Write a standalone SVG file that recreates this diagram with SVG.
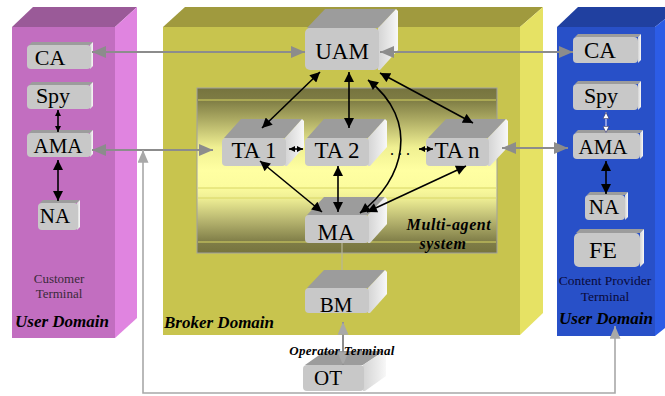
<svg xmlns="http://www.w3.org/2000/svg" width="665" height="396" viewBox="0 0 665 396">
<defs>
<style>
.nf{fill:#C8C8C8}
.nt{fill:#9C9C9C}
.ns{fill:url(#sideg)}
.nl{font-family:"Liberation Serif","Times New Roman",serif;fill:#000;text-anchor:middle}
.bi{font-family:"Liberation Serif","Times New Roman",serif;font-weight:bold;font-style:italic;fill:#000}
.lbl{font-family:"Liberation Serif","Times New Roman",serif;text-anchor:middle}
.blk{stroke:#000;stroke-width:1.6;fill:none}
.gry{stroke:#8C8C8C;stroke-width:2.2;fill:none}
.band{stroke:#D8D664;stroke-width:1}
</style>
<linearGradient id="sideg" x1="0" y1="0" x2="1" y2="0">
<stop offset="0" stop-color="#D4D4D4"/>
<stop offset="0.7" stop-color="#ECECEC"/>
<stop offset="1" stop-color="#F8F8F8"/>
</linearGradient>
<linearGradient id="mas" x1="0" y1="0" x2="0" y2="1">
<stop offset="0" stop-color="#76743E"/>
<stop offset="0.073" stop-color="#7E7C44"/>
<stop offset="0.18" stop-color="#A8A660"/>
<stop offset="0.36" stop-color="#F0F092"/>
<stop offset="0.5" stop-color="#FFFFA2"/>
<stop offset="0.6" stop-color="#FCFC9E"/>
<stop offset="0.67" stop-color="#EEEE94"/>
<stop offset="0.8" stop-color="#B8B670"/>
<stop offset="0.93" stop-color="#807E48"/>
<stop offset="1" stop-color="#76743E"/>
</linearGradient>
<marker id="ab" viewBox="0 0 10 10" refX="10" refY="5" markerWidth="11" markerHeight="10" markerUnits="userSpaceOnUse" orient="auto-start-reverse"><path d="M0,0L10,5L0,10z" fill="#000"/></marker>
<marker id="abs" viewBox="0 0 10 10" refX="10" refY="5" markerWidth="6" markerHeight="6" markerUnits="userSpaceOnUse" orient="auto-start-reverse"><path d="M0,0L10,5L0,10z" fill="#000"/></marker>
<marker id="aw" viewBox="0 0 10 10" refX="10" refY="5" markerWidth="7" markerHeight="7" markerUnits="userSpaceOnUse" orient="auto-start-reverse"><path d="M0.5,0.5L9.5,5L0.5,9.5z" fill="#FFFFFF" stroke="#303060" stroke-width="1"/></marker>
<marker id="ag" viewBox="0 0 14 12" refX="14" refY="6" markerWidth="14" markerHeight="12" markerUnits="userSpaceOnUse" orient="auto-start-reverse"><path d="M0,0L14,6L0,12z" fill="#8C8C8C"/></marker>
<marker id="agl" viewBox="0 0 14 12" refX="14" refY="6" markerWidth="13" markerHeight="11" markerUnits="userSpaceOnUse" orient="auto-start-reverse"><path d="M0,0L14,6L0,12z" fill="#A8A8A8"/></marker>
</defs>

<rect x="0" y="0" width="665" height="396" fill="#FFFFFF"/>

<!-- Domains -->
<g id="customer-domain">
<polygon points="12,27 33,7 137,7 115,27" fill="#9A5A98"/>
<polygon points="115,27 137,7 137,318 115,338" fill="#E084E0"/>
<rect x="12" y="27" width="103" height="311" fill="#C26EC0"/>
<text class="lbl" x="59" y="283" font-size="13" fill="#3A2A3A">Customer</text>
<text class="lbl" x="59" y="298" font-size="13" fill="#3A2A3A">Terminal</text>
<text class="bi" x="15" y="327" font-size="17">User Domain</text>
</g>

<g id="broker-domain">
<polygon points="163,27 185,7 543,7 520,27" fill="#A09A3E"/>
<polygon points="520,27 543,7 543,313 520,335" fill="#E6E264"/>
<rect x="163" y="27" width="357" height="308" fill="#C8C44E"/>
<text class="bi" x="164" y="328" font-size="17">Broker Domain</text>
</g>

<g id="provider-domain">
<polygon points="557,27 578,7 680,7 655,27" fill="#2040A0"/>
<polygon points="655,27 680,7 680,316 655,336" fill="#2C5CE6"/>
<rect x="557" y="27" width="98" height="309" fill="#2850C8"/>
<text class="lbl" x="605" y="285" font-size="13.5" fill="#0A0A3A">Content Provider</text>
<text class="lbl" x="605" y="301" font-size="13.5" fill="#0A0A3A">Terminal</text>
<text class="bi" x="559" y="324" font-size="17">User Domain</text>
</g>

<g id="multi-agent-system">
<rect x="197" y="88" width="300" height="165" fill="url(#mas)" stroke="#A0A0A0" stroke-width="1"/>
<line class="band" x1="198" y1="100" x2="496" y2="100"/>
<line class="band" x1="198" y1="188" x2="496" y2="188"/>
<line class="band" x1="198" y1="198" x2="496" y2="198"/>
<line class="band" x1="198" y1="242" x2="496" y2="242"/>
<text class="bi" x="449" y="230" font-size="16" text-anchor="middle" letter-spacing="0.6">Multi-agent</text>
<text class="bi" x="443" y="249" font-size="16" text-anchor="middle" letter-spacing="0.6">system</text>
</g>

<!-- Big 3D nodes -->
<g id="UAM">
<polygon class="nt" points="307,28 325,9 396,9 378,28"/>
<polygon class="ns" points="378,28 396,9 398,11 398,50 380,70 378,70"/>
<rect class="nf" x="305" y="28" width="74" height="42" rx="5"/>
<text class="nl" x="342" y="59" font-size="23">UAM</text>
</g>
<g id="TA1">
<polygon class="nt" points="224,138 241,119 302,119 285,138"/>
<polygon class="ns" points="285,138 302,119 304,121 304,147 287,166 285,166"/>
<rect class="nf" x="222" y="138" width="64" height="28" rx="4"/>
<text class="nl" x="254" y="158" font-size="23">TA 1</text>
</g>
<g id="TA2">
<polygon class="nt" points="307,138 324,119 385,119 368,138"/>
<polygon class="ns" points="368,138 385,119 387,121 387,147 370,166 368,166"/>
<rect class="nf" x="305" y="138" width="64" height="28" rx="4"/>
<text class="nl" x="337" y="158" font-size="23">TA 2</text>
</g>
<g id="TAn">
<polygon class="nt" points="428,138 446,119 506,119 488,138"/>
<polygon class="ns" points="488,138 506,119 508,121 508,147 490,166 488,166"/>
<rect class="nf" x="426" y="138" width="63" height="28" rx="4"/>
<text class="nl" x="457" y="158" font-size="23">TA n</text>
</g>
<g id="MA">
<polygon class="nt" points="307,215 324,197 385,197 368,215"/>
<polygon class="ns" points="368,215 385,197 387,199 387,224 370,243 368,243"/>
<rect class="nf" x="305" y="215" width="64" height="28" rx="4"/>
<text class="nl" x="336" y="240" font-size="23">MA</text>
</g>
<g id="BM">
<polygon class="nt" points="307,288 324,270 385,270 368,288"/>
<polygon class="ns" points="368,288 385,270 387,272 387,294 370,313 368,313"/>
<rect class="nf" x="305" y="288" width="64" height="25" rx="4"/>
<text class="nl" x="336" y="312" font-size="21">BM</text>
</g>
<g id="OT">
<polygon class="nt" points="305,365 325,351 384,351 363,365"/>
<polygon class="ns" points="363,365 384,351 386,353 386,376 365,391 363,391"/>
<rect class="nf" x="303" y="365" width="61" height="26" rx="4"/>
<text class="nl" x="328" y="385" font-size="21">OT</text>
</g>

<!-- Small 3D nodes -->
<g id="CA-left">
<polygon class="nt" points="29,45 32,42 93,42 90,45"/>
<polygon class="ns" points="90,45 93,42 93,66 90,69"/>
<rect class="nf" x="27" y="45" width="64" height="24" rx="4"/>
<text class="nl" x="50" y="65" font-size="22">CA</text>
</g>
<g id="Spy-left">
<polygon class="nt" points="29,85 32,82 93,82 90,85"/>
<polygon class="ns" points="90,85 93,82 93,106 90,109"/>
<rect class="nf" x="27" y="85" width="64" height="24" rx="4"/>
<text class="nl" x="53" y="103" font-size="22">Spy</text>
</g>
<g id="AMA-left">
<polygon class="nt" points="29,133 32,130 93,130 90,133"/>
<polygon class="ns" points="90,133 93,130 93,154 90,157"/>
<rect class="nf" x="27" y="133" width="64" height="24" rx="4"/>
<text class="nl" x="58" y="153" font-size="21">AMA</text>
</g>
<g id="NA-left">
<polygon class="nt" points="40,203 43,200 80,200 77,203"/>
<polygon class="ns" points="77,203 80,200 80,227 77,230"/>
<rect class="nf" x="38" y="203" width="40" height="27" rx="4"/>
<text class="nl" x="55" y="223" font-size="21">NA</text>
</g>
<g id="CA-right">
<polygon class="nt" points="575,37 578,34 641,34 638,37"/>
<polygon class="ns" points="638,37 641,34 641,60 638,63"/>
<rect class="nf" x="573" y="37" width="65" height="26" rx="4"/>
<text class="nl" x="600" y="58" font-size="23">CA</text>
</g>
<g id="Spy-right">
<polygon class="nt" points="575,84 578,81 641,81 638,84"/>
<polygon class="ns" points="638,84 641,81 641,107 638,110"/>
<rect class="nf" x="573" y="84" width="65" height="26" rx="4"/>
<text class="nl" x="601" y="103" font-size="22">Spy</text>
</g>
<g id="AMA-right">
<polygon class="nt" points="575,133 578,130 643,130 640,133"/>
<polygon class="ns" points="640,133 643,130 643,156 640,159"/>
<rect class="nf" x="573" y="133" width="67" height="26" rx="4"/>
<text class="nl" x="603" y="154" font-size="21">AMA</text>
</g>
<g id="NA-right">
<polygon class="nt" points="587,195 590,192 628,192 625,195"/>
<polygon class="ns" points="625,195 628,192 628,217 625,220"/>
<rect class="nf" x="585" y="195" width="40" height="25" rx="4"/>
<text class="nl" x="604" y="214" font-size="21">NA</text>
</g>
<g id="FE">
<polygon class="nt" points="576,233 580,229 644,229 640,233"/>
<polygon class="ns" points="640,233 644,229 644,263 640,267"/>
<rect class="nf" x="574" y="233" width="66" height="34" rx="5"/>
<text class="nl" x="603" y="258" font-size="24">FE</text>
</g>

<!-- Connectors -->
<g id="connectors">
<line class="gry" x1="92" y1="52" x2="305" y2="52" marker-start="url(#ag)" marker-end="url(#ag)"/>
<line class="gry" x1="380" y1="52" x2="573" y2="52" marker-start="url(#ag)" marker-end="url(#ag)"/>
<line class="gry" x1="92" y1="150" x2="213" y2="150" marker-start="url(#ag)" marker-end="url(#ag)"/>
<line class="gry" x1="502" y1="148" x2="568" y2="148" marker-start="url(#ag)" marker-end="url(#ag)"/>
<path d="M143,150 V393 H615 V326" fill="none" stroke="#A8A8A8" stroke-width="1.6" marker-start="url(#agl)" marker-end="url(#agl)"/>
<line x1="342" y1="243" x2="342" y2="270" stroke="#B8B698" stroke-width="1.2"/>
<line x1="343" y1="322" x2="343" y2="365" stroke="#8C8C8C" stroke-width="2" marker-start="url(#agl)" marker-end="url(#agl)"/>

<line class="blk" x1="320" y1="72" x2="262" y2="128" marker-start="url(#ab)" marker-end="url(#ab)"/>
<line class="blk" x1="349" y1="72" x2="349" y2="128" marker-start="url(#ab)" marker-end="url(#ab)"/>
<line class="blk" x1="380" y1="73" x2="473" y2="123" marker-start="url(#ab)" marker-end="url(#ab)"/>
<path class="blk" d="M368,80 C420,120 405,180 360,213" marker-start="url(#ab)" marker-end="url(#ab)"/>
<line class="blk" x1="260" y1="161" x2="322" y2="212" marker-start="url(#ab)" marker-end="url(#ab)"/>
<line class="blk" x1="338" y1="166" x2="338" y2="212" marker-start="url(#ab)" marker-end="url(#ab)"/>
<line class="blk" x1="466" y1="166" x2="367" y2="212" marker-start="url(#ab)" marker-end="url(#ab)"/>
<line class="blk" x1="289" y1="149" x2="303" y2="149" stroke-width="1.2" marker-start="url(#abs)" marker-end="url(#abs)"/>
<text x="390" y="155" font-family="Liberation Serif, serif" font-size="16" fill="#000">.  .  .</text>
<line class="blk" x1="419" y1="149" x2="433" y2="149" stroke-width="1.2" marker-start="url(#abs)" marker-end="url(#abs)"/>

<line class="blk" x1="58" y1="110" x2="58" y2="132" stroke-width="1.4" marker-start="url(#abs)" marker-end="url(#abs)"/>
<line class="blk" x1="58" y1="160" x2="58" y2="201" marker-start="url(#ab)" marker-end="url(#ab)"/>
<line x1="606" y1="112" x2="606" y2="133" stroke="#D0D0F4" stroke-width="1.2" marker-start="url(#aw)" marker-end="url(#aw)"/>
<line class="blk" x1="606" y1="161" x2="606" y2="194" marker-start="url(#ab)" marker-end="url(#ab)"/>
</g>

<text class="bi" x="342" y="355" font-size="13" text-anchor="middle" letter-spacing="0.3">Operator Terminal</text>
</svg>
